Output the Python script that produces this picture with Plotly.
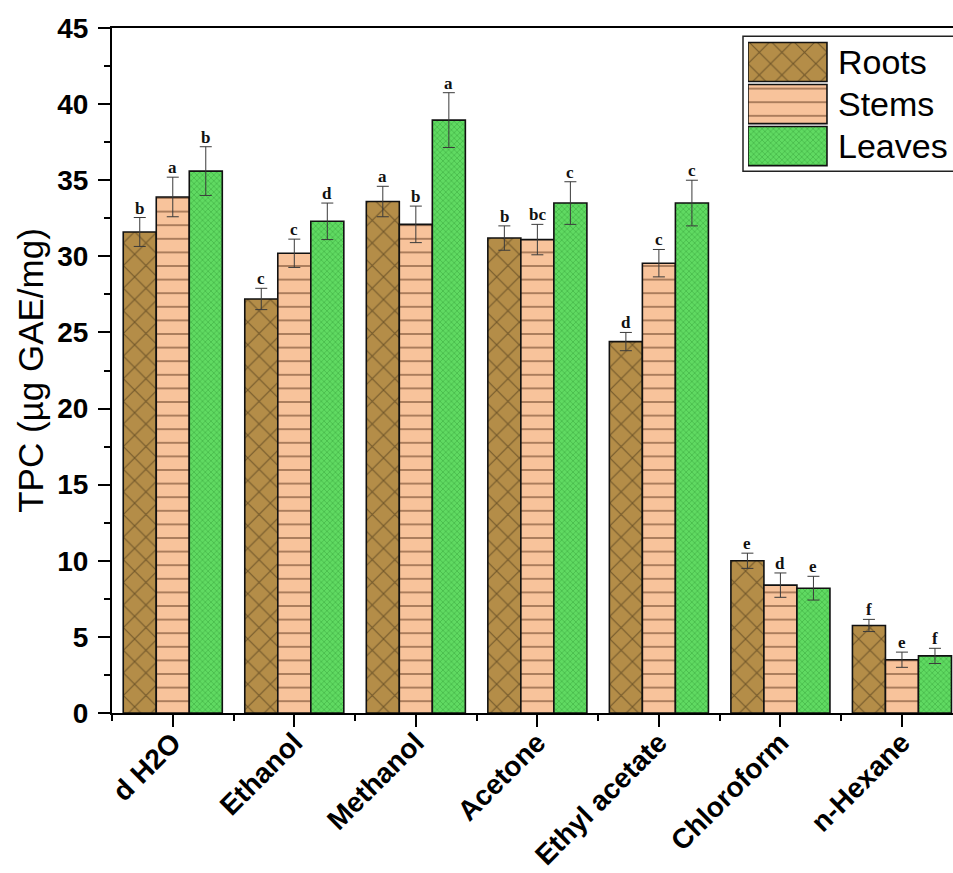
import plotly.graph_objects as go

# Solvent extracts on the x axis
solvents = ["d H2O", "Ethanol", "Methanol", "Acetone", "Ethyl acetate", "Chloroform", "n-Hexane"]

# Total phenolic content (µg GAE/mg) per plant part, with standard deviations
roots = [31.6, 27.2, 33.6, 31.2, 24.4, 10.0, 5.75]
roots_err = [0.95, 0.7, 1.0, 0.8, 0.6, 0.5, 0.4]
roots_sig = ["b", "c", "a", "b", "d", "e", "f"]

stems = [33.9, 30.2, 32.1, 31.1, 29.55, 8.4, 3.5]
stems_err = [1.3, 0.93, 1.2, 1.0, 0.9, 0.8, 0.5]
stems_sig = ["a", "c", "b", "bc", "c", "d", "e"]

leaves = [35.6, 32.3, 38.95, 33.5, 33.5, 8.2, 3.75]
leaves_err = [1.6, 1.2, 1.8, 1.4, 1.5, 0.78, 0.5]
leaves_sig = ["b", "d", "a", "c", "c", "e", "f"]

y_ticks = [0, 5, 10, 15, 20, 25, 30, 35, 40, 45]

series_names = ["Roots", "Stems", "Leaves"]

# Fill styles for each plant part
styles = {
    "Roots": dict(color="#B48D48", pattern=dict(shape="x", size=16, solidity=0.13,
                                                 fgcolor="#2E200B", bgcolor="#B48D48",
                                                 fillmode="overlay")),
    "Stems": dict(color="#F8C39B", pattern=dict(shape="-", size=13.6, solidity=0.13,
                                                 fgcolor="#4E2810", bgcolor="#F8C39B",
                                                 fillmode="overlay")),
    "Leaves": dict(color="#58D05A", pattern=dict(shape="x", size=4, solidity=0.4,
                                                  fgcolor="#34A038", bgcolor="#60DA62",
                                                  fillmode="overlay")),
}

BARGAP = 0.185
n_series = 3
bar_w = (1 - BARGAP) / n_series
idx = list(range(len(solvents)))

fig = go.Figure()

data = [(roots, roots_err, roots_sig), (stems, stems_err, stems_sig), (leaves, leaves_err, leaves_sig)]
for k, (name, (vals, errs, sig)) in enumerate(zip(series_names, data)):
    st = styles[name]
    fig.add_trace(go.Bar(
        x=idx, y=vals, name=name, showlegend=False,
        marker=dict(color=st["color"], pattern=st["pattern"],
                    line=dict(color="#111111", width=1.6)),
        error_y=dict(type="data", array=errs, visible=True,
                     color="#3a3a3a", thickness=1, width=6),
    ))
    offset = (k - (n_series - 1) / 2) * bar_w
    for i, (v, e, s) in enumerate(zip(vals, errs, sig)):
        fig.add_annotation(
            x=i + offset, y=v + e, text=f"<b>{s}</b>", showarrow=False,
            xref="x", yref="y", yanchor="bottom", yshift=-2,
            font=dict(family="Liberation Serif", size=17, color="#111111"),
        )

# Legend key drawn as swatch bars on a small inset axis
key_rows = [2, 1, 0]
for name, row in zip(series_names, key_rows):
    st = styles[name]
    fig.add_trace(go.Bar(
        x=[1], y=[row], base=[0], orientation="h", width=[0.93],
        xaxis="x2", yaxis="y2", showlegend=False, hoverinfo="skip",
        marker=dict(color=st["color"], pattern=st["pattern"],
                    line=dict(color="#111111", width=1.6)),
    ))
    fig.add_annotation(
        x=1.12, y=row, xref="x2", yref="y2", text=name, showarrow=False,
        xanchor="left", yanchor="middle",
        font=dict(family="Liberation Sans, Arial", size=34, color="#000000"),
    )

fig.add_shape(type="rect", xref="paper", yref="paper",
              x0=0.7503, x1=1.02, y0=0.791, y1=0.988,
              line=dict(color="#222222", width=1.5), fillcolor="rgba(0,0,0,0)")

fig.update_layout(
    width=953, height=873,
    margin=dict(l=112, r=0, t=28, b=160, autoexpand=False),
    paper_bgcolor="white", plot_bgcolor="white",
    barmode="group", bargap=BARGAP, bargroupgap=0,
    xaxis=dict(
        range=[-0.5, 6.42], tickmode="array", tickvals=idx, ticktext=solvents,
        tickangle=-45, ticks="outside", ticklen=12, tickwidth=2, tickcolor="#000",
        tickfont=dict(family="Liberation Sans, Arial", size=28, color="#000", weight="bold"),
        ticklabelstandoff=-12,
        showline=True, linecolor="#000", linewidth=2, mirror=True,
        showgrid=False, zeroline=False, automargin=False,
        minor=dict(tickmode="array", tickvals=[i - 0.5 for i in idx] + [6.5],
                   ticks="outside", ticklen=6, tickwidth=2, tickcolor="#000"),
    ),
    yaxis=dict(
        range=[0, 45], tickmode="array", tickvals=y_ticks,
        ticks="outside", ticklen=12, tickwidth=2, tickcolor="#000",
        tickfont=dict(family="Liberation Sans, Arial", size=28, color="#000", weight="bold"),
        ticklabelstandoff=4,
        showline=True, linecolor="#000", linewidth=2,
        showgrid=False, zeroline=False, automargin=False,
        minor=dict(dtick=2.5, tick0=0, ticks="outside", ticklen=6, tickwidth=2, tickcolor="#000"),
        title=dict(text="TPC (µg GAE/mg)", standoff=3,
                   font=dict(family="Liberation Sans, Arial", size=35, color="#000")),
    ),
    xaxis2=dict(domain=[0.7562, 1.0], range=[0, 2.595], anchor="y2",
                visible=False, fixedrange=True),
    yaxis2=dict(domain=[0.797, 0.981], range=[-0.5, 2.5], anchor="x2",
                visible=False, fixedrange=True),
)

fig.write_html("out.html")
